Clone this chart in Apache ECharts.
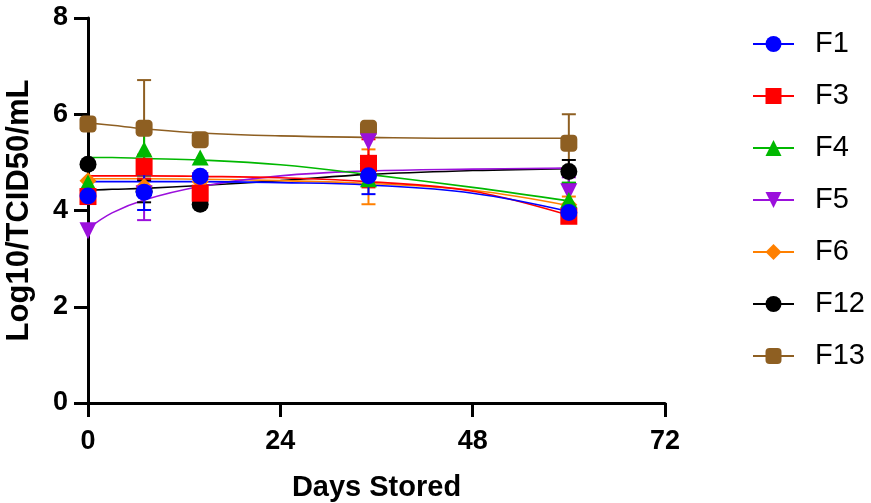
<!DOCTYPE html>
<html>
<head>
<meta charset="utf-8">
<script src="https://cdn.jsdelivr.net/npm/echarts@6/dist/echarts.min.js"></script>
<style>
  html, body { margin: 0; padding: 0; background: #fff; }
  #chart { width: 871px; height: 503px; }
</style>
</head>
<body>
<div id="chart"></div>
<script>
// sampling days and fitted-curve read points
var days = [0, 7, 14, 35, 60];
var fitDays = [0, 3, 7, 14, 24, 35, 48, 60];
var yTicks = [0, 2, 4, 6, 8];
var xTicks = [0, 24, 48, 72];

// mean values
var f1 = [4.30, 4.38, 4.71, 4.72, 3.96];
var f3 = [4.29, 4.91, 4.36, 4.98, 3.88];
var f4 = [4.58, 5.27, 5.10, 4.65, 4.22];
var f5 = [3.58, 4.35, 4.62, 5.43, 4.39];
var f6 = [4.62, 4.50, 4.60, 4.70, 4.12];
var f12 = [4.96, 4.40, 4.13, 4.98, 4.81];
var f13 = [5.80, 5.71, 5.47, 5.71, 5.40];

// error bars (SD)
var f1Err = [0, 0.37, 0, 0.38, 0];
var f3Err = [0, 0.25, 0.13, 0.50, 0];
var f4Err = [0, 0.32, 0, 0, 0.36];
var f5Err = [0, 0.55, 0, 0, 0.30];
var f6Err = [0, 0, 0, 0.57, 0.17];
var f12Err = [0, 0.23, 0, 0, 0.24];
var f13Err = [0, 1.00, 0, 0, 0.60];

// fitted curves
var f1Fit = [4.60, 4.60, 4.60, 4.60, 4.58, 4.53, 4.36, 3.98];
var f3Fit = [4.72, 4.72, 4.72, 4.71, 4.68, 4.60, 4.40, 3.90];
var f4Fit = [5.10, 5.10, 5.08, 5.05, 4.95, 4.75, 4.48, 4.20];
var f5Fit = [3.62, 3.95, 4.22, 4.50, 4.72, 4.82, 4.86, 4.88];
var f6Fit = [4.66, 4.66, 4.66, 4.65, 4.62, 4.56, 4.42, 4.10];
var f12Fit = [4.42, 4.44, 4.46, 4.52, 4.62, 4.75, 4.83, 4.87];
var f13Fit = [5.82, 5.77, 5.70, 5.61, 5.55, 5.52, 5.50, 5.50];

var groups = [
  {name: 'F1', color: '#0000ff', symbol: 'circle', vals: f1, errs: f1Err, fit: f1Fit},
  {name: 'F3', color: '#ff0000', symbol: 'rect', vals: f3, errs: f3Err, fit: f3Fit},
  {name: 'F4', color: '#00b800', symbol: 'triangle', vals: f4, errs: f4Err, fit: f4Fit},
  {name: 'F5', color: '#9b10dc', symbol: 'path://M0,0L20,0L10,18Z', vals: f5, errs: f5Err, fit: f5Fit},
  {name: 'F6', color: '#ff8000', symbol: 'diamond', vals: f6, errs: f6Err, fit: f6Fit},
  {name: 'F12', color: '#000000', symbol: 'circle', vals: f12, errs: f12Err, fit: f12Fit},
  {name: 'F13', color: '#8e5f22', symbol: 'roundRect', vals: f13, errs: f13Err, fit: f13Fit}
];

var font = 'Liberation Sans, Arial, sans-serif';
var series = [];
// draw F13 first so F1 ends on top
groups.slice().reverse().forEach(function (g) {
  series.push({
    name: g.name,
    type: 'line',
    z: 1,
    smooth: 0.4,
    showSymbol: false,
    symbol: g.symbol,
    silent: true,
    data: fitDays.map(function (d, i) { return [d, g.fit[i]]; }),
    itemStyle: {color: g.color},
    lineStyle: {color: g.color, width: 1.6}
  });
  series.push({
    name: g.name,
    type: 'custom',
    z: 2,
    silent: true,
    data: days.map(function (d, i) { return [d, g.vals[i], g.errs[i]]; }),
    renderItem: function (params, api) {
      var e = api.value(2);
      if (!e) return null;
      var x = api.value(0), y = api.value(1);
      var top = api.coord([x, y + e]);
      var bot = api.coord([x, y - e]);
      var hw = 7;
      var st = {stroke: g.color, lineWidth: 2};
      return {
        type: 'group',
        children: [
          {type: 'line', shape: {x1: top[0], y1: top[1], x2: bot[0], y2: bot[1]}, style: st},
          {type: 'line', shape: {x1: top[0] - hw, y1: top[1], x2: top[0] + hw, y2: top[1]}, style: st},
          {type: 'line', shape: {x1: bot[0] - hw, y1: bot[1], x2: bot[0] + hw, y2: bot[1]}, style: st}
        ]
      };
    }
  });
  series.push({
    name: g.name,
    type: 'scatter',
    z: 2,
    symbol: g.symbol,
    symbolSize: g.symbol === 'triangle' ? [17, 16] : 17,
    data: days.map(function (d, i) { return [d, g.vals[i]]; }),
    itemStyle: {color: g.color, opacity: 1}
  });
});

var chart = echarts.init(document.getElementById('chart'));
chart.setOption({
  backgroundColor: '#ffffff',
  animation: false,
  grid: {left: 88, right: 206, top: 18, bottom: 100, containLabel: false, outerBoundsMode: 'none'},
  legend: {
    orient: 'vertical',
    left: 752,
    top: 29,
    padding: 0,
    itemWidth: 41,
    itemHeight: 20,
    itemGap: 22,
    data: groups.map(function (g) { return g.name; }),
    textStyle: {fontFamily: font, fontSize: 29, color: '#000', padding: [0, 0, 0, 16], lineHeight: 30}
  },
  xAxis: {
    type: 'value',
    min: xTicks[0],
    max: xTicks[xTicks.length - 1],
    interval: 24,
    name: 'Days Stored',
    nameLocation: 'middle',
    nameGap: 70,
    nameTextStyle: {fontFamily: font, fontSize: 29, fontWeight: 'bold', color: '#000'},
    axisLine: {lineStyle: {color: '#000', width: 3}},
    axisTick: {length: 14, lineStyle: {color: '#000', width: 3}},
    axisLabel: {fontFamily: font, fontSize: 27, fontWeight: 'bold', color: '#000', margin: 25},
    splitLine: {show: false}
  },
  yAxis: {
    type: 'value',
    min: yTicks[0],
    max: yTicks[yTicks.length - 1],
    interval: 2,
    name: 'Log10/TCID50/mL',
    nameLocation: 'middle',
    nameGap: 53,
    nameTextStyle: {fontFamily: font, fontSize: 31, fontWeight: 'bold', color: '#000'},
    axisLine: {show: true, lineStyle: {color: '#000', width: 3}},
    axisTick: {show: true, length: 14, lineStyle: {color: '#000', width: 3}},
    axisLabel: {fontFamily: font, fontSize: 27, fontWeight: 'bold', color: '#000', margin: 20},
    splitLine: {show: false}
  },
  series: series
});
</script>
</body>
</html>
